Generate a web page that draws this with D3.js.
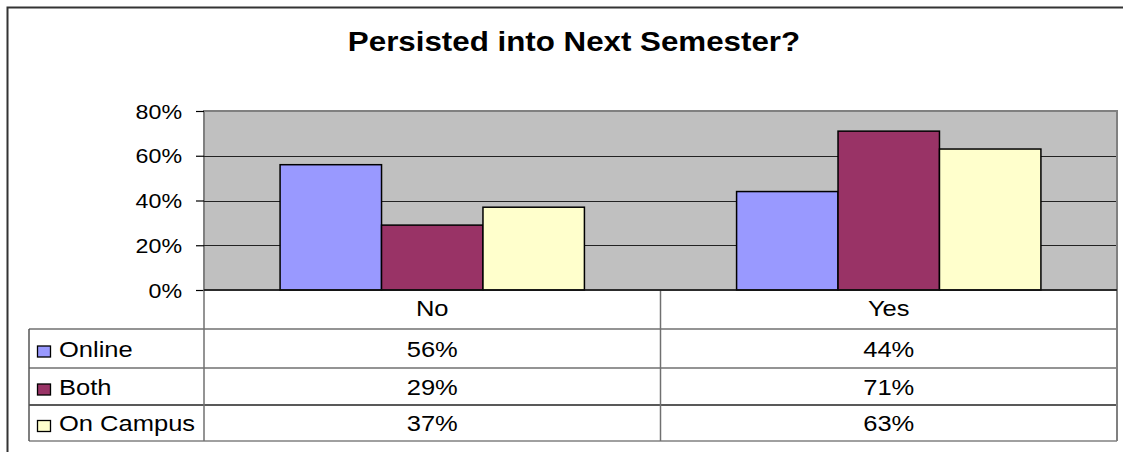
<!DOCTYPE html>
<html><head><meta charset="utf-8">
<script src="https://cdn.jsdelivr.net/npm/d3@7"></script>
<style>
body{margin:0;background:#fff}
svg{display:block}
text{font-family:"Liberation Sans",Arial,sans-serif;fill:#000}
</style></head>
<body><svg id="c" width="1123" height="452"></svg>
<script>
const title = "Persisted into Next Semester?";
const categories = ["No", "Yes"];
const seriesNames = ["Online", "Both", "On Campus"];
const online = [0.56, 0.44];
const both = [0.29, 0.71];
const onCampus = [0.37, 0.63];
const yTicks = [0, 0.2, 0.4, 0.6, 0.8];
const colors = ["#9999FF", "#993366", "#FFFFCC"];
const seriesValues = [online, both, onCampus];

const SX = 1.16; // horizontal stretch of the original image text
const svg = d3.select("#c");
const fmt = d3.format(".0%");

// outer frame (left and top visible)
svg.append("path").attr("d", "M7.5,452 V7.5 H1123")
  .attr("fill", "none").attr("stroke", "#333").attr("stroke-width", 2);

// title
function stext(sel, x, y, txt, anchor, size, weight) {
  return sel.append("text")
    .attr("x", x / SX).attr("y", y)
    .attr("transform", `scale(${SX},1)`)
    .attr("text-anchor", anchor)
    .style("font-size", size + "px")
    .style("font-weight", weight || "normal")
    .text(txt);
}
stext(svg, 574, 51.5, title, "middle", 27, "bold");

const plot = {l: 204, r: 1117, t: 111, b: 290};
const x0 = d3.scaleBand().domain(categories).range([plot.l, plot.r]);
const x1 = d3.scaleBand().domain(seriesNames).range([0, x0.bandwidth()])
  .paddingOuter(0.75).paddingInner(0);
const y = d3.scaleLinear().domain([0, 0.8]).range([plot.b, plot.t]);

// plot background
svg.append("rect").attr("x", plot.l).attr("y", plot.t)
  .attr("width", plot.r - plot.l).attr("height", plot.b - plot.t)
  .attr("fill", "#C0C0C0").attr("stroke", "#808080").attr("stroke-width", 2);

// gridlines
svg.append("g").selectAll("line").data(yTicks.filter(d => d > 0 && d < 0.8)).join("line")
  .attr("x1", plot.l).attr("x2", plot.r)
  .attr("y1", d => Math.round(y(d)) + 0.5).attr("y2", d => Math.round(y(d)) + 0.5)
  .attr("stroke", "#222").attr("stroke-width", 1.2);

// bars
const catG = svg.append("g").selectAll("g").data(categories).join("g")
  .attr("transform", c => `translate(${x0(c)},0)`);
catG.selectAll("rect").data((c, ci) => seriesNames.map((s, si) => ({s, si, v: seriesValues[si][ci]})))
  .join("rect")
  .attr("x", d => x1(d.s)).attr("width", x1.bandwidth())
  .attr("y", d => y(d.v)).attr("height", d => y(0) - y(d.v))
  .attr("fill", d => colors[d.si]).attr("stroke", "#000").attr("stroke-width", 1.5);

// y axis
const ax = svg.append("g").attr("transform", `translate(${plot.l},0)`)
  .call(d3.axisLeft(y).tickValues(yTicks).tickFormat(fmt).tickSize(8));
ax.select(".domain").remove();
ax.selectAll(".tick line").attr("stroke", "#000").attr("stroke-width", 1.2);
ax.selectAll(".tick text")
  .attr("x", -22 / SX).attr("dy", "0.36em")
  .attr("transform", `scale(${SX},1)`)
  .attr("text-anchor", "end")
  .attr("fill", "#000")
  .style("font-size", "20px")
  .style("font-family", '"Liberation Sans",Arial,sans-serif');

// data table
const rowsY = [290, 329, 368, 405, 441];
const tableLeft = 29;
const tg = svg.append("g");
function hline(yv, x1v, x2v, col) {
  tg.append("line").attr("x1", x1v).attr("x2", x2v).attr("y1", yv).attr("y2", yv)
    .attr("stroke", col).attr("stroke-width", 1.5);
}
function vline(xv, y1v, y2v, col, w) {
  tg.append("line").attr("x1", xv).attr("x2", xv).attr("y1", y1v).attr("y2", y2v)
    .attr("stroke", col).attr("stroke-width", w || 1.5);
}
hline(rowsY[1], tableLeft, plot.r, "#707070");
hline(rowsY[2], tableLeft, plot.r, "#707070");
hline(rowsY[3], tableLeft, plot.r, "#222");
hline(rowsY[4], tableLeft, plot.r, "#808080");
vline(tableLeft, rowsY[1], rowsY[4], "#555");
vline(plot.l, plot.b, rowsY[4], "#707070");
vline(x0("Yes"), plot.b, rowsY[4], "#707070");
vline(plot.r, plot.t, rowsY[4], "#808080", 2);
hline(plot.b, plot.l, plot.r, "#111");

// header row
categories.forEach(c => {
  stext(tg, x0(c) + x0.bandwidth() / 2, (rowsY[0] + rowsY[1]) / 2 + 7, c, "middle", 22);
});
// series rows
seriesNames.forEach((s, si) => {
  const top = rowsY[si + 1], bot = rowsY[si + 2], mid = (top + bot) / 2;
  tg.append("rect").attr("x", 37.5).attr("y", mid - 2.5).attr("width", 13).attr("height", 11)
    .attr("fill", colors[si]).attr("stroke", "#000").attr("stroke-width", 1.3);
  stext(tg, 59, mid + 8.5, s, "start", 22);
  categories.forEach((c, ci) => {
    stext(tg, x0(c) + x0.bandwidth() / 2, mid + 8.5, fmt(seriesValues[si][ci]), "middle", 22);
  });
});
</script>
</body></html>
